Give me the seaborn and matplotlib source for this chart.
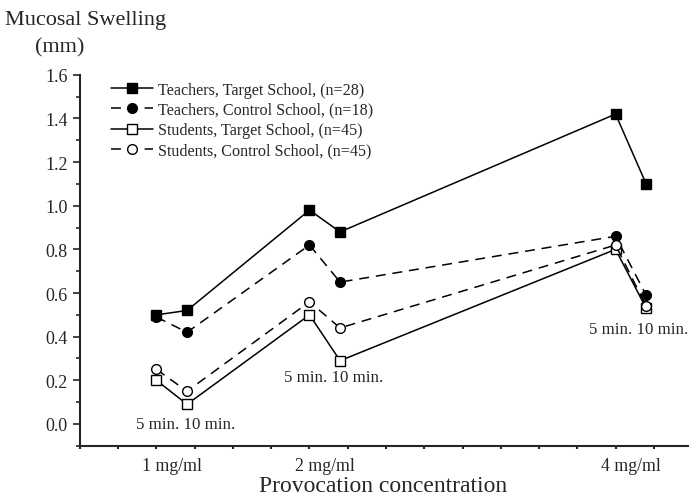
import matplotlib
matplotlib.use('Agg')
import matplotlib.pyplot as plt
import seaborn as sns
import pandas as pd
import numpy as np
from matplotlib.ticker import MultipleLocator

# Data (x = concentration, 10 min readings sit at +0.2)
x_pos = [1.0, 1.2, 2.0, 2.2, 4.0, 4.2]
teachers_target = [0.50, 0.52, 0.98, 0.88, 1.42, 1.10]
teachers_control = [0.49, 0.42, 0.82, 0.65, 0.86, 0.59]
students_target = [0.20, 0.09, 0.50, 0.29, 0.80, 0.53]
students_control = [0.25, 0.15, 0.56, 0.44, 0.82, 0.54]

conc_ticks = [1.1, 2.1, 4.1]
conc_labels = ['1 mg/ml', '2 mg/ml', '4 mg/ml']
note_x = [1.19, 2.16, 4.15]
note_y = [0.0, 0.215, 0.435]

sns.set_theme(style="ticks")
plt.rcParams['font.family'] = ['Liberation Serif', 'DejaVu Serif']

fig = plt.figure(figsize=(6.89, 5.02), dpi=100)
ax = fig.add_axes([0.116, 0.110, 0.884, 0.739])

series = [
    ('Teachers, Target School, (n=28)', teachers_target, 's', 'black', '-'),
    ('Teachers, Control School, (n=18)', teachers_control, 'o', 'black', (0, (6.5, 4.5))),
    ('Students, Target School, (n=45)', students_target, 's', 'white', '-'),
    ('Students, Control School, (n=45)', students_control, 'o', 'white', (0, (6.5, 4.5))),
]

for label, vals, marker, face, ls in series:
    df = pd.DataFrame({'x': x_pos, 'y': vals})
    sns.lineplot(data=df, x='x', y='y', ax=ax, color='black', linewidth=1.1,
                 linestyle=ls, marker=marker, markersize=7, markerfacecolor=face,
                 markeredgecolor='black', markeredgewidth=1.0, label=label)

for tx, ty in zip(note_x, note_y):
    ax.text(tx, ty, '5 min. 10 min.', ha='center', va='center', fontsize=12.2)

ax.set_xlim(0.5, 4.48)
ax.set_ylim(-0.1, 1.6)
ax.set_yticks(np.arange(0, 1.61, 0.2))
ax.set_yticklabels([f'{v:.1f}' for v in np.arange(0, 1.61, 0.2)], fontsize=13)
ax.yaxis.set_minor_locator(MultipleLocator(0.1))
ax.tick_params(axis='y', which='major', direction='out', length=5, width=1.2, pad=4)
ax.tick_params(axis='y', which='minor', direction='out', length=3, width=1.2)

ax.set_xticks(conc_ticks)
ax.set_xticklabels(conc_labels, fontsize=12.8)
ax.xaxis.set_minor_locator(MultipleLocator(0.25))
ax.tick_params(axis='x', which='major', length=0, pad=8)
ax.tick_params(axis='x', which='minor', direction='out', length=2, width=1.5)

ax.set_xlabel('')
ax.set_ylabel('')
sns.despine(ax=ax)
for s in ['left', 'bottom']:
    ax.spines[s].set_linewidth(1.5)

fig.text(0.007, 0.960, 'Mucosal Swelling', fontsize=16, ha='left', va='center')
fig.text(0.051, 0.905, '(mm)', fontsize=16, ha='left', va='center')
fig.text(0.556, 0.030, 'Provocation concentration', fontsize=17, ha='center', va='center')

leg = ax.legend(loc='upper left', bbox_to_anchor=(0.035, 1.008), frameon=False,
                fontsize=11.6, handlelength=2.6, handletextpad=0.3, labelspacing=0.27,
                borderaxespad=0.2)

plt.savefig('out.png', dpi=100)
